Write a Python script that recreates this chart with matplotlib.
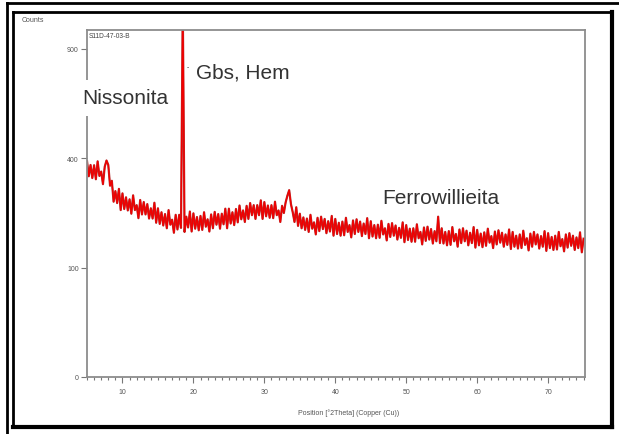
import numpy as np
import matplotlib
matplotlib.use("Agg")
import matplotlib.pyplot as plt
from matplotlib.ticker import MultipleLocator, FixedLocator
from matplotlib.lines import Line2D

plt.rcParams['font.family'] = ['Liberation Sans', 'DejaVu Sans']

# ---- data ----
two_theta = np.arange(5.0, 75.001, 0.25)   # scan positions, step 0.25 deg
counts = [
    390, 337, 376, 331,   # 5
    375, 327, 389, 338,   # 6
    353, 311, 370, 392,   # 7
    376, 306, 322, 257,   # 8
    289, 253, 296, 233,   # 9
    282, 236, 270, 232,   # 10
    264, 223, 276, 233,   # 11
    247, 211, 262, 221,   # 12
    256, 221, 250, 210,   # 13
    238, 210, 254, 199,   # 14
    238, 196, 227, 192,   # 15
    222, 185, 233, 194,   # 16
    207, 174, 220, 182,   # 17
    220, 186, 1150, 176,  # 18
    215, 187, 229, 177,   # 19
    224, 184, 214, 180,   # 20
    217, 181, 227, 189,   # 21
    208, 177, 221, 185,   # 22
    228, 194, 222, 184,   # 23
    223, 195, 237, 185,   # 24
    237, 197, 227, 193,   # 25
    236, 200, 246, 208,   # 26
    232, 201, 245, 209,   # 27
    253, 219, 247, 209,   # 28
    247, 219, 261, 209,   # 29
    256, 216, 246, 212,   # 30
    247, 211, 257, 219,   # 31
    232, 201, 245, 225,   # 32
    255, 275, 292, 250,   # 33
    227, 201, 241, 191,   # 34
    223, 185, 213, 181,   # 35
    210, 176, 220, 184,   # 36
    200, 170, 212, 178,   # 37
    215, 183, 209, 173,   # 38
    203, 177, 217, 167,   # 39
    209, 171, 199, 167,   # 40
    202, 168, 212, 176,   # 41
    193, 163, 205, 171,   # 42
    208, 176, 202, 166,   # 43
    197, 171, 211, 161,   # 44
    203, 165, 193, 161,   # 45
    194, 162, 204, 170,   # 46
    185, 156, 196, 164,   # 47
    198, 167, 192, 158,   # 48
    186, 162, 200, 152,   # 49
    193, 157, 184, 153,   # 50
    185, 153, 195, 161,   # 51
    176, 147, 187, 155,   # 52
    189, 158, 183, 149,   # 53
    178, 154, 215, 150,   # 54
    185, 149, 176, 145,   # 55
    178, 146, 188, 154,   # 56
    171, 142, 182, 150,   # 57
    185, 154, 179, 145,   # 58
    174, 150, 188, 140,   # 59
    181, 145, 172, 141,   # 60
    175, 144, 184, 151,   # 61
    166, 139, 177, 147,   # 62
    180, 151, 174, 142,   # 63
    170, 146, 182, 137,   # 64
    176, 142, 167, 138,   # 65
    170, 139, 179, 146,   # 66
    161, 134, 172, 142,   # 67
    176, 147, 170, 138,   # 68
    166, 142, 178, 133,   # 69
    173, 139, 164, 135,   # 70
    167, 136, 176, 143,   # 71
    159, 132, 170, 140,   # 72
    173, 144, 167, 135,   # 73
    163, 139, 175, 130,   # 74
    160,                  # 75
]
y_ticks = [0, 100, 400, 900]
x_ticks = [10, 20, 30, 40, 50, 60, 70]
annotations = ["Nissonita", "Gbs, Hem", "Ferrowillieita"]

# ---- figure ----
W, H = 619, 435
fig = plt.figure(figsize=(W / 100, H / 100), dpi=100)
fig.patch.set_facecolor('white')

def fx(px):
    return px / W

def fy(py):
    return 1 - py / H

ax = fig.add_axes([fx(87), fy(378), fx(585) - fx(87), fy(31) - fy(378)])
ax.set_yscale('function', functions=(lambda v: np.sqrt(np.clip(v, 0, None)),
                                     lambda v: np.square(v)))
ax.plot(two_theta, counts, color='#a00000', lw=1.6, alpha=0.8)
ax.plot(two_theta, counts, color='#f00000', lw=1.0)
ax.set_xlim(5, 75.2)
ax.set_ylim(0, 1007)

ax.yaxis.set_major_locator(FixedLocator(y_ticks))
ax.yaxis.set_minor_locator(FixedLocator([]))
ax.xaxis.set_major_locator(FixedLocator(x_ticks))
ax.xaxis.set_minor_locator(MultipleLocator(1))

for sp in ax.spines.values():
    sp.set_color('#8c8c8c')
    sp.set_linewidth(1.3)

ax.tick_params(axis='both', which='major', length=4, width=0.8, color='#777777',
               labelsize=5, labelcolor='#555555', pad=2)
ax.tick_params(axis='x', which='minor', length=2, width=0.8, color='#777777')
ax.tick_params(axis='x', which='major', pad=4)

# axis labels
fig.text(fx(349), fy(413), "Position [°2Theta] (Copper (Cu))", fontsize=5,
         color='#555555', ha='center', va='center')
fig.text(fx(22), fy(20), "Counts", fontsize=5, color='#555555',
         ha='left', va='center')
fig.text(fx(89), fy(37), "S11D-47-03-B", fontsize=4.8, color='#444444',
         ha='left', va='center')

# phase annotations
fig.text(fx(82), fy(99), annotations[0], fontsize=15, color='#333333',
         ha='left', va='center', zorder=5,
         bbox=dict(facecolor='white', edgecolor='none', pad=6))
fig.text(fx(196), fy(73), annotations[1], fontsize=15, color='#333333',
         ha='left', va='center', zorder=5)
fig.text(fx(188), fy(68), "·", fontsize=9, color='#333333',
         ha='center', va='center', zorder=5)
fig.text(fx(382), fy(199), annotations[2], fontsize=15, color='#333333',
         ha='left', va='center', zorder=5)

# picture frame
def fline(x0, y0, x1, y1, lw, color='black'):
    fig.add_artist(Line2D([fx(x0), fx(x1)], [fy(y0), fy(y1)], lw=lw,
                          color=color, transform=fig.transFigure,
                          solid_capstyle='projecting'))

fline(7, 4, 619, 4, 2.0)
fline(7, 4, 7, 435, 2.0)
fline(13, 13, 612, 13, 2.0)
fline(13, 13, 13, 428, 2.0)
fline(612, 13, 612, 428, 3.0)
fline(13, 428, 612, 428, 3.0)

fig.savefig('out.png', dpi=100, facecolor='white')
